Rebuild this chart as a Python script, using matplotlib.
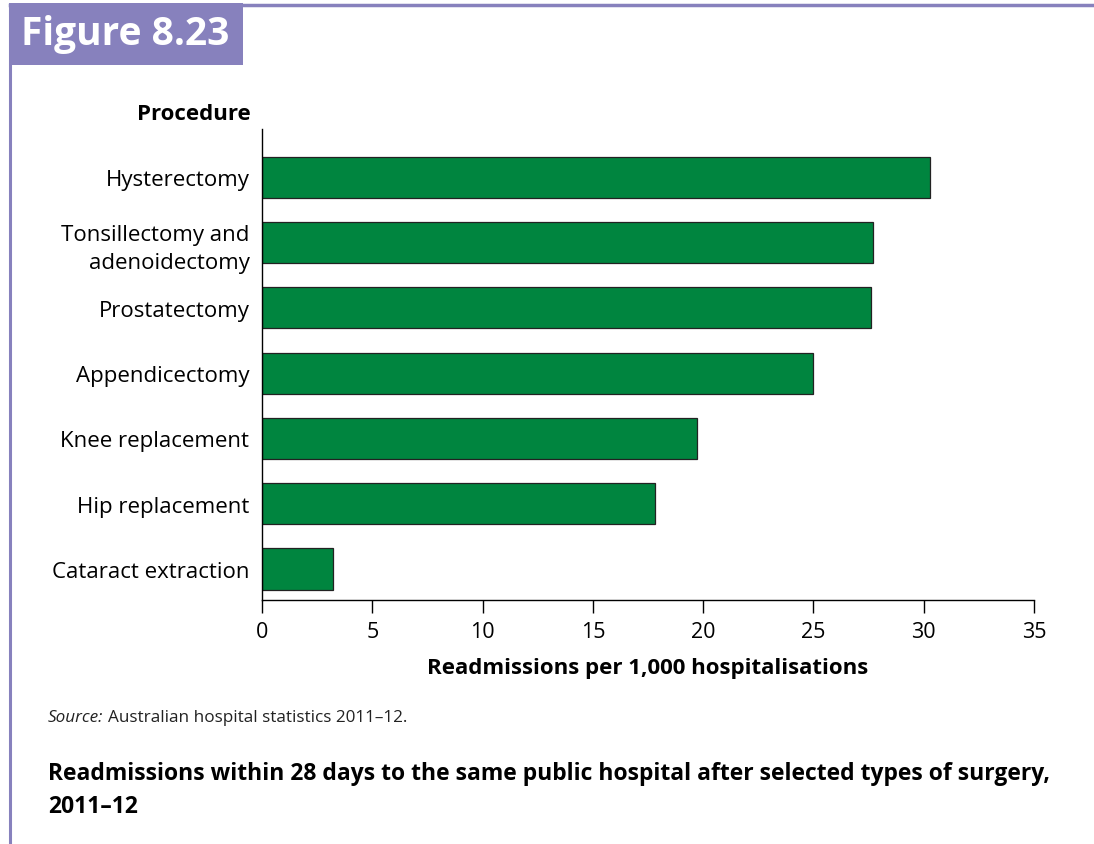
import matplotlib
matplotlib.use("Agg")
import matplotlib.pyplot as plt
from matplotlib.patches import Rectangle
from matplotlib.lines import Line2D

# Dados (de baixo para cima)
procedimentos = ["Cataract extraction", "Hip replacement", "Knee replacement",
                 "Appendicectomy", "Prostatectomy",
                 "Tonsillectomy and\nadenoidectomy", "Hysterectomy"]
readmissoes = [3.2, 17.8, 19.7, 25.0, 27.6, 27.7, 30.3]
ticks_x = [0, 5, 10, 15, 20, 25, 30, 35]

roxo = "#8781bd"
verde = "#00853f"

plt.rcParams["font.family"] = ["Open Sans", "DejaVu Sans"]

W, H = 1094, 845
fig = plt.figure(figsize=(W / 100, H / 100), dpi=100)

def fx(px):
    return px / W

def fy(py):
    return 1 - py / H

# Cabeçalho roxo e linhas de moldura
fig.add_artist(Line2D([fx(10), fx(1094)], [fy(6), fy(6)], color=roxo, lw=2.5))
fig.add_artist(Line2D([fx(10), fx(10)], [fy(6), fy(845)], color=roxo, lw=2.2))
fig.add_artist(Rectangle((fx(9), fy(66)), fx(234), fy(4) - fy(66),
                         facecolor=roxo, edgecolor="none", transform=fig.transFigure))
fig.text(fx(21), fy(35), "Figure 8.23", color="white", fontsize=28,
         fontweight="bold", va="center", ha="left")

# Eixos
ax = fig.add_axes([fx(262), fy(601), fx(1034) - fx(262), fy(130) - fy(601)])
ax.barh(range(len(procedimentos)), readmissoes, height=0.63, color=verde,
        edgecolor="#222222", linewidth=0.9)
ax.set_xlim(0, 35)
ax.set_ylim(-0.475, 6.74)
ax.set_xticks(ticks_x)
ax.set_xticklabels([str(t) for t in ticks_x])
ax.set_yticks(range(len(procedimentos)))
ax.set_yticklabels(procedimentos, fontsize=16, linespacing=1.45)
for rotulo in ax.get_yticklabels():
    rotulo.set_y(rotulo.get_position()[1])
ax.tick_params(axis="y", length=0, pad=9)
ax.tick_params(axis="x", length=9, width=1, labelsize=15.5, pad=6, direction="out")
for lado in ["top", "right"]:
    ax.spines[lado].set_visible(False)
ax.spines["left"].set_linewidth(1)
ax.spines["bottom"].set_linewidth(1)
ax.set_xlabel("Readmissions per 1,000 hospitalisations", fontsize=16,
              fontweight="bold", labelpad=11)

fig.text(fx(251), fy(114), "Procedure", fontsize=16, fontweight="bold",
         ha="right", va="center")

# Fonte e título
fig.text(fx(48), fy(718), "Source:", fontsize=12.3, style="italic",
         ha="left", va="center", color="#222222")
fig.text(fx(108), fy(718), "Australian hospital statistics 2011\u201312.",
         fontsize=12.3, ha="left", va="center", color="#222222")
fig.text(fx(48), fy(791),
         "Readmissions within 28 days to the same public hospital after selected types of surgery,\n2011\u201312",
         fontsize=16.5, fontweight="bold", ha="left", va="center", linespacing=1.5)

fig.savefig("out.png", dpi=100)
